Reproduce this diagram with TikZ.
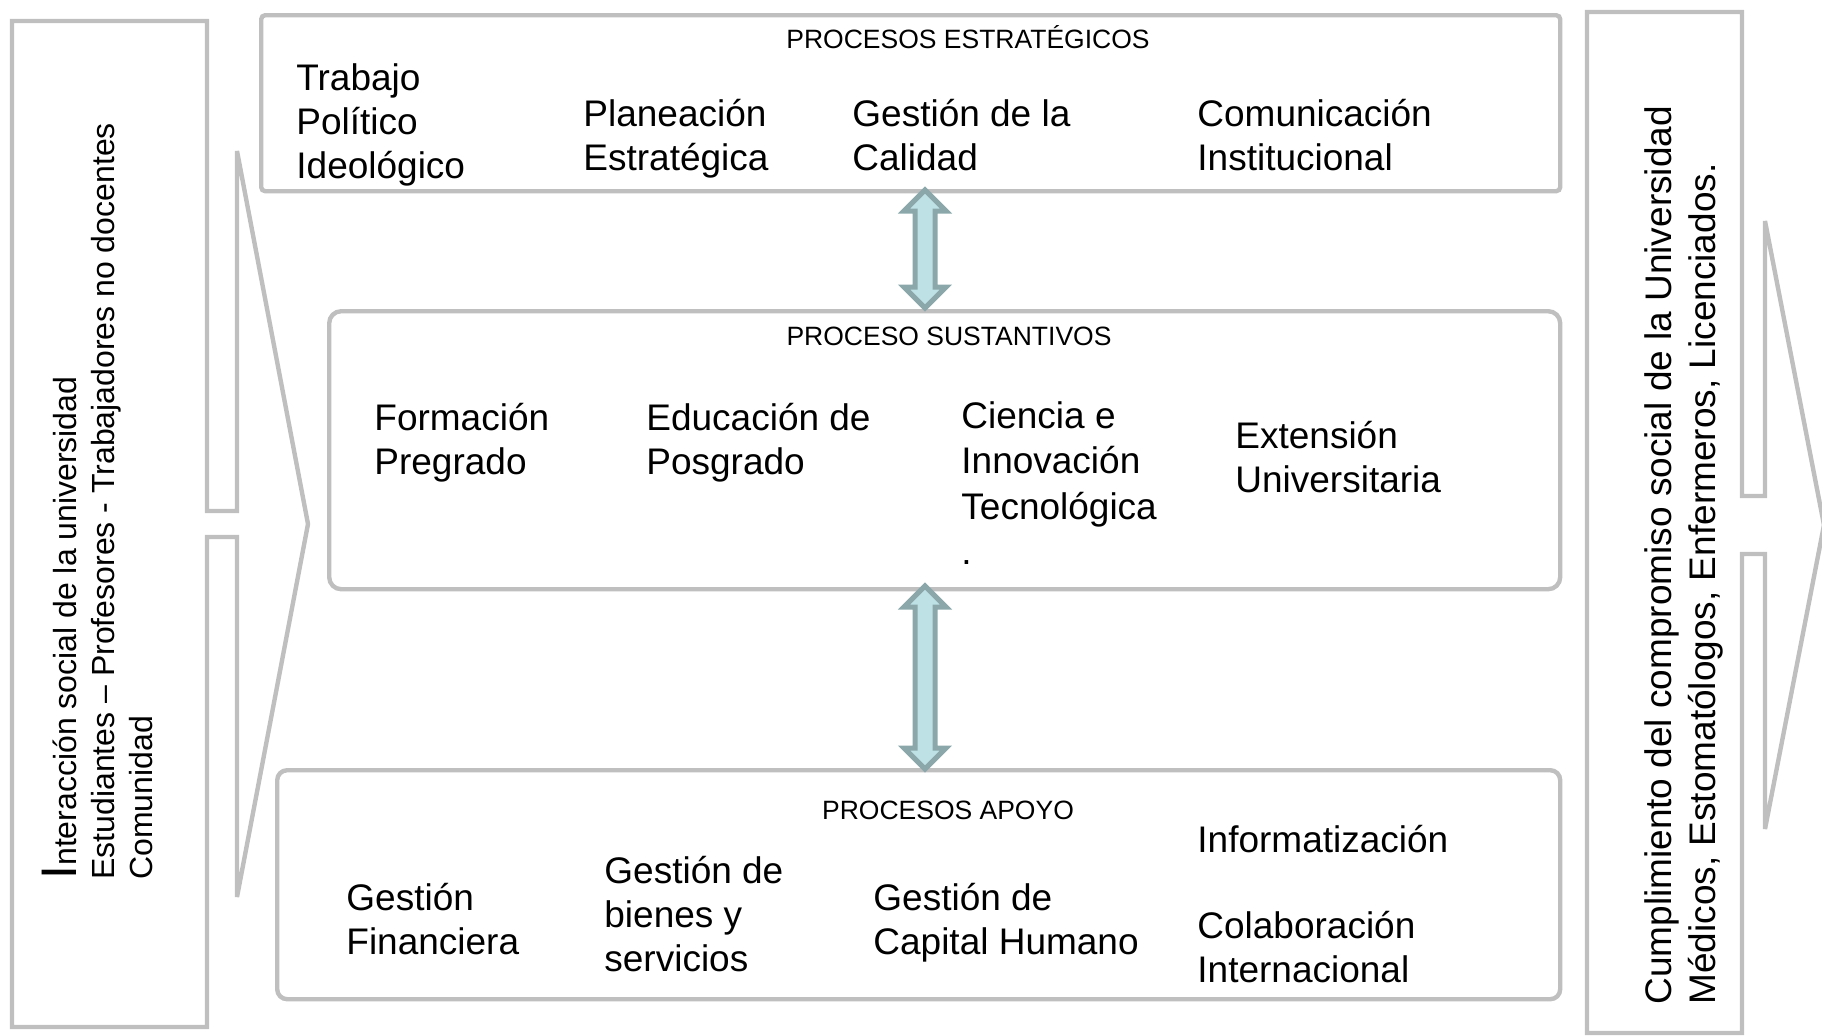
\documentclass[tikz,border=0pt]{standalone}
\usepackage{fontspec}
\setmainfont{Liberation Sans}
\usetikzlibrary{calc}
\definecolor{boxgray}{HTML}{BFBFBF}
\definecolor{arrfill}{HTML}{BDE1E5}
\definecolor{arrdraw}{HTML}{8BA7AA}
\begin{document}
\begin{tikzpicture}[x=0.5pt,y=-0.5pt,
  frame/.style={draw=boxgray,line width=2.2pt},
  procbox/.style={frame,anchor=north west,inner sep=0pt},
  dblarr/.style={draw=arrdraw,fill=arrfill,line width=2.5pt,line join=miter},
  tx/.style={font=\fontsize{18.5}{22}\selectfont,align=left,anchor=west,inner sep=0pt,text=black},
  hd/.style={font=\fontsize{13.25}{16}\selectfont,inner sep=0pt,text=black}]
\useasboundingbox (0,0) rectangle (1822,1035);

% left and right side shapes
\draw[frame] (12,21) -- (207,21) -- (207,511) -- (237,511) -- (237,151) -- (308,524)
  -- (237,897) -- (237,537) -- (207,537) -- (207,1027) -- (12,1027) -- cycle;
\draw[frame] (1587,12) -- (1742,12) -- (1742,496) -- (1765,496) -- (1765,221) -- (1824,525)
  -- (1765,829) -- (1765,554) -- (1742,554) -- (1742,1033) -- (1587,1033) -- cycle;

\node[font=\fontsize{16}{19}\selectfont,align=left,rotate=90,anchor=west,inner sep=0pt] (left) at (97.5,880)
  {{\fontsize{25}{19}\selectfont I}nteracción social de la universidad\\
   Estudiantes – Profesores - Trabajadores no docentes\\
   Comunidad};
\node[font=\fontsize{18.5}{22}\selectfont,align=left,rotate=90,anchor=west,inner sep=0pt] (right) at (1684,1005)
  {Cumplimiento del compromiso social de la Universidad\\
   Médicos, Estomatólogos, Enfermeros, Licenciados.};

% process boxes
\node[procbox,rounded corners=2pt,minimum width=649.5pt,minimum height=88pt] (estr) at (259,13) {};
\node[procbox,rounded corners=6pt,minimum width=615.5pt,minimum height=139pt] (sust) at (327,309) {};
\node[procbox,rounded corners=5pt,minimum width=641.5pt,minimum height=114.5pt] (apoyo) at (275,768) {};

% double arrows between boxes
\draw[dblarr] (925,190) -- (946,211) -- (935,211) -- (935,287) -- (946,287) -- (925,308)
  -- (904,287) -- (915,287) -- (915,211) -- (904,211) -- cycle;
\draw[dblarr] (925,586) -- (946,607) -- (935,607) -- (935,748) -- (946,748) -- (925,769)
  -- (904,748) -- (915,748) -- (915,607) -- (904,607) -- cycle;

% headers
\node[hd] (h1) at (968,37) {PROCESOS ESTRATÉGICOS};
\node[hd] (h2) at (949,336) {PROCESO SUSTANTIVOS};
\node[hd] (h3) at (948,810) {PROCESOS APOYO};

% strategic
\node[tx] (t1) at (296,124.5) {Trabajo\\Político\\Ideológico};
\node[tx] (t2) at (583,138.5) {Planeación\\Estratégica};
\node[tx] (t3) at (852,135) {Gestión de la\\Calidad};
\node[tx] (t4) at (1197,135) {Comunicación\\Institucional};

% substantive
\node[tx] (s1) at (374,442.5) {Formación\\Pregrado};
\node[tx] (s2) at (646,442.5) {Educación de\\Posgrado};
\node[tx,font=\fontsize{18.5}{22.6}\selectfont] (s3) at (961,483) {Ciencia e\\Innovación\\Tecnológica\\.};
\node[tx] (s4) at (1235,457) {Extensión\\Universitaria};

% support
\node[tx] (a1) at (346,919) {Gestión\\Financiera};
\node[tx] (a2) at (604,914) {Gestión de\\bienes y\\servicios};
\node[tx] (a3) at (873,922.5) {Gestión de\\Capital Humano};
\node[tx] (a4) at (1197,839) {Informatización};
\node[tx] (a5) at (1197,947) {Colaboración\\Internacional};
\end{tikzpicture}
\end{document}
